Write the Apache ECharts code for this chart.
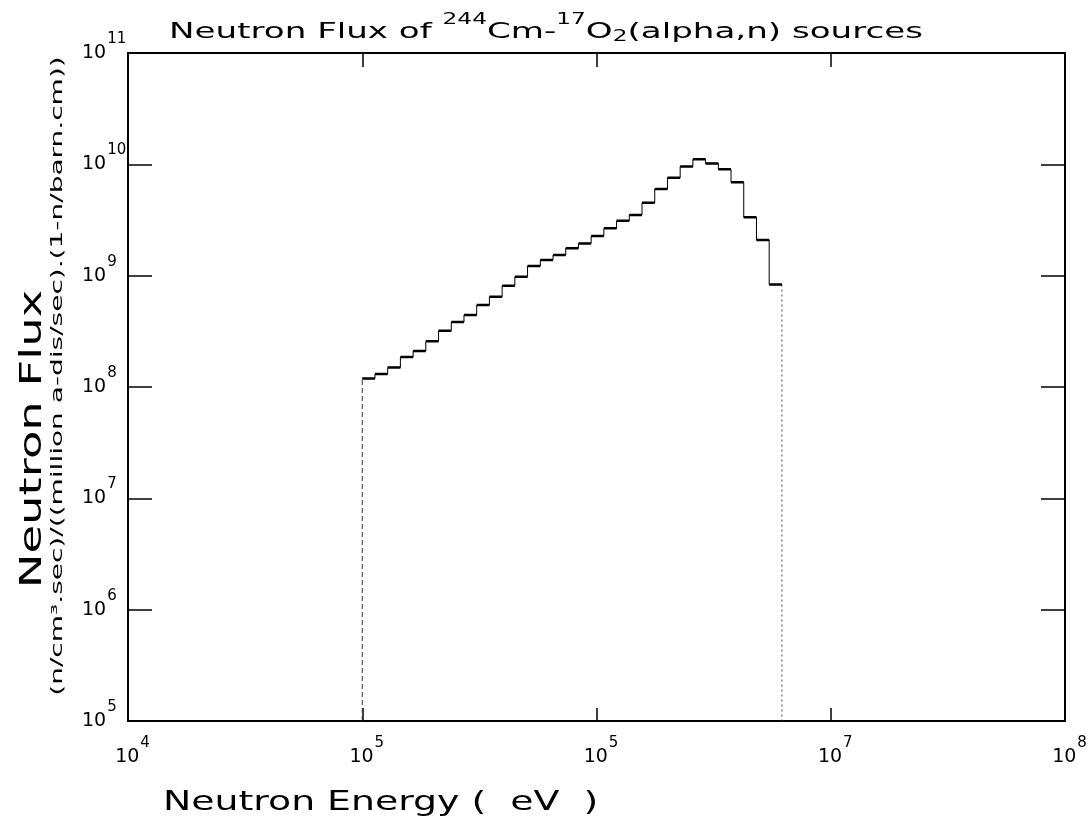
<!DOCTYPE html>
<html><head><meta charset="utf-8">
<script src="https://cdn.jsdelivr.net/npm/echarts@6/dist/echarts.min.js"></script>
<style>html,body{margin:0;padding:0;background:#fff}#c{width:1091px;height:822px}</style>
</head><body><div id="c"></div>
<script>
// Bin edges (eV) of the step histogram
const binEdges = [1.000e5, 1.133e5, 1.284e5, 1.455e5, 1.649e5, 1.868e5, 2.117e5, 2.399e5, 2.718e5, 3.080e5,
  3.490e5, 3.955e5, 4.482e5, 5.078e5, 5.755e5, 6.521e5, 7.389e5, 8.373e5, 9.488e5, 1.075e6,
  1.218e6, 1.380e6, 1.564e6, 1.773e6, 2.009e6, 2.276e6, 2.579e6, 2.922e6, 3.312e6, 3.752e6,
  4.252e6, 4.818e6, 5.460e6, 6.187e6];
// Flux value in each bin
const fluxValues = [1.19e8, 1.31e8, 1.50e8, 1.86e8, 2.11e8, 2.57e8, 3.20e8, 3.83e8, 4.43e8, 5.44e8,
  6.46e8, 8.13e8, 9.77e8, 1.22e9, 1.38e9, 1.53e9, 1.76e9, 1.95e9, 2.27e9, 2.66e9,
  3.11e9, 3.51e9, 4.52e9, 6.00e9, 7.59e9, 9.55e9, 1.11e10, 1.02e10, 9.02e9, 6.89e9,
  3.34e9, 2.09e9, 8.32e8];
// Tick label exponents as printed on the original
const xTickExponents = ['4', '5', '5', '7', '8'];   // for 1e4 .. 1e8
const yTickExponents = ['5', '6', '7', '8', '9', '10', '11']; // for 1e5 .. 1e11

const X_MIN = 1e4, X_MAX = 1e8, Y_MIN = 1e5, Y_MAX = 1e11;
const FONT = 'DejaVu Sans';

const stepLine = [];
const bars = [];
for (let i = 0; i < fluxValues.length; i++) {
  stepLine.push([binEdges[i], fluxValues[i]], [binEdges[i + 1], fluxValues[i]]);
  bars.push([binEdges[i], fluxValues[i]], [binEdges[i + 1], fluxValues[i]], null);
}
const n = fluxValues.length;
const leftEdge = [[binEdges[0], Y_MIN], [binEdges[0], fluxValues[0]]];
const rightEdge = [[binEdges[n], fluxValues[n - 1]], [binEdges[n], Y_MIN]];

const tickRich = {
  b: { fontFamily: FONT, fontSize: 19, color: '#000', lineHeight: 22, verticalAlign: 'middle', padding: [0, 0, 0, 9] },
  s: { fontFamily: FONT, fontSize: 15, color: '#000', lineHeight: 16, verticalAlign: 'middle', padding: [0, 0, 28, 1] }
};
const yTickRich = {
  b: { fontFamily: FONT, fontSize: 19, color: '#000', lineHeight: 22, verticalAlign: 'middle' },
  s: { fontFamily: FONT, fontSize: 15, color: '#000', lineHeight: 16, verticalAlign: 'middle', padding: [0, 0, 28, 1] }
};

function expIndex(v, base) { return Math.round(Math.log10(v)) - base; }

const axisLineStyle = { color: '#000', width: 2 };

const chart = echarts.init(document.getElementById('c'), null, { renderer: 'canvas' });
chart.setOption({
  animation: false,
  backgroundColor: '#fff',
  grid: { left: 128, right: 26, top: 53, bottom: 101, containLabel: false },
  xAxis: [{
    type: 'log', logBase: 10, min: X_MIN, max: X_MAX, interval: 1, position: 'bottom',
    axisLine: { show: true, onZero: false, lineStyle: axisLineStyle },
    axisTick: { show: true, inside: true, length: 13, lineStyle: { color: '#000', width: 1.5 } },
    minorTick: { show: false },
    splitLine: { show: false },
    axisLabel: {
      show: true, margin: 25, showMinLabel: true, showMaxLabel: true,
      formatter: v => '{b|10}{s|' + xTickExponents[expIndex(v, 4)] + '}',
      rich: tickRich
    }
  }, {
    type: 'log', logBase: 10, min: X_MIN, max: X_MAX, interval: 1, position: 'top',
    axisLine: { show: true, onZero: false, lineStyle: axisLineStyle },
    axisTick: { show: true, inside: true, length: 14, lineStyle: { color: '#000', width: 1.5 } },
    axisLabel: { show: false }, splitLine: { show: false }
  }],
  yAxis: [{
    type: 'log', logBase: 10, min: Y_MIN, max: Y_MAX, interval: 1, position: 'left',
    axisLine: { show: true, onZero: false, lineStyle: axisLineStyle },
    axisTick: { show: true, inside: true, length: 24, lineStyle: { color: '#000', width: 1.5 } },
    minorTick: { show: false },
    splitLine: { show: false },
    axisLabel: {
      show: true, margin: 46, align: 'left', showMinLabel: true, showMaxLabel: true,
      formatter: v => '{b|10}{s|' + yTickExponents[expIndex(v, 5)] + '}',
      rich: yTickRich
    }
  }, {
    type: 'log', logBase: 10, min: Y_MIN, max: Y_MAX, interval: 1, position: 'right',
    axisLine: { show: true, onZero: false, lineStyle: axisLineStyle },
    axisTick: { show: true, inside: true, length: 24, lineStyle: { color: '#000', width: 1.5 } },
    axisLabel: { show: false }, splitLine: { show: false }
  }],
  series: [
    { type: 'line', name: 'edges-left', data: leftEdge, symbol: 'none', silent: true,
      lineStyle: { color: '#333', width: 1, type: [5, 3] } },
    { type: 'line', name: 'edges-right', data: rightEdge, symbol: 'none', silent: true,
      lineStyle: { color: '#444', width: 1, type: [2, 3] } },
    { type: 'line', name: 'risers', data: stepLine, symbol: 'none', silent: true,
      lineStyle: { color: '#000', width: 1 } },
    { type: 'line', name: 'flux', data: bars, symbol: 'none', silent: true, connectNulls: false,
      lineStyle: { color: '#000', width: 2.5 } }
  ],
  graphic: [
    { type: 'text', x: 546, y: 32, scaleX: 1.55, silent: true,
      style: {
        text: '{m|Neutron Flux of }{sup|244}{m|Cm-}{sup|17}{m|O}{sub|2}{m|(alpha,n) sources}',
        align: 'center', verticalAlign: 'middle', textAlign: 'center', textVerticalAlign: 'middle',
        rich: {
          m: { fontFamily: FONT, fontSize: 22, fill: '#000', lineHeight: 28, verticalAlign: 'middle' },
          sup: { fontFamily: FONT, fontSize: 15, fill: '#000', lineHeight: 16, verticalAlign: 'middle', padding: [0, 0, 24, 0] },
          sub: { fontFamily: FONT, fontSize: 15, fill: '#000', lineHeight: 16, verticalAlign: 'middle', padding: [10, 0, 0, 0] }
        }
      } },
    { type: 'text', x: 33, y: 439, rotation: Math.PI / 2, scaleX: 1.55, silent: true,
      style: { text: 'Neutron Flux', font: '30px "DejaVu Sans"', fill: '#000',
        align: 'center', verticalAlign: 'middle', textAlign: 'center', textVerticalAlign: 'middle' } },
    { type: 'text', x: 58, y: 376, rotation: Math.PI / 2, scaleX: 1.75, silent: true,
      style: { text: '(n/cm³.sec)/((million a-dis/sec).(1-n/barn.cm))', font: '16px "DejaVu Sans"', fill: '#000',
        align: 'center', verticalAlign: 'middle', textAlign: 'center', textVerticalAlign: 'middle' } },
    { type: 'text', x: 163, y: 803, scaleX: 1.4, silent: true,
      style: { text: 'Neutron Energy (  eV  )', font: '27px "DejaVu Sans"', fill: '#000',
        align: 'left', verticalAlign: 'middle', textAlign: 'left', textVerticalAlign: 'middle' } }
  ]
});
</script></body></html>
